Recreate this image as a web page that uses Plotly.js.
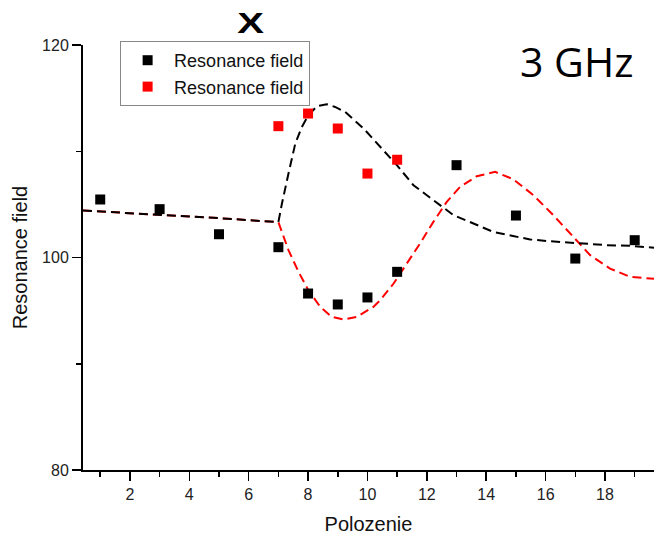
<!DOCTYPE html>
<html>
<head>
<meta charset="utf-8">
<script src="https://cdn.plot.ly/plotly-3.0.1.min.js"></script>
<style>
  html, body { margin: 0; padding: 0; background: #fff; }
  #chart { width: 654px; height: 535px; }
</style>
</head>
<body>
<div id="chart"></div>
<script>
// Measured resonance field at each position
const posBlack = [1, 3, 5, 7, 8, 9, 10, 11, 13, 15, 17, 19];
const fieldBlack = [105.46, 104.55, 102.19, 100.97, 96.61, 95.58, 96.24, 98.65, 108.69, 103.95, 99.9, 101.63];
const posRed = [7, 8, 9, 10, 11];
const fieldRed = [112.36, 113.55, 112.14, 107.9, 109.2];

// Fitted curves (dashed)
const fitBlackX = [0.42, 2.57, 5.0, 7.0, 7.12, 7.34, 7.57, 7.79, 8.01, 8.3, 8.63, 8.91, 9.25, 9.87, 10.45, 10.99, 11.55, 12.22, 12.9, 13.57, 14.24, 14.9, 15.48, 16.15, 17.05, 18.06, 18.85, 19.65];
const fitBlackY = [104.42, 104.1, 103.7, 103.33, 105.08, 107.9, 110.73, 112.29, 113.39, 114.24, 114.43, 114.17, 113.7, 112.14, 110.35, 108.69, 106.8, 105.39, 103.98, 103.2, 102.41, 102.02, 101.7, 101.53, 101.37, 101.16, 101.1, 100.92];
const fitRedX = [0.42, 2.57, 5.0, 7.0, 7.06, 7.34, 7.68, 8.01, 8.41, 8.8, 9.19, 9.64, 10.2, 10.43, 10.88, 11.33, 11.77, 12.22, 12.67, 13.12, 13.68, 14.3, 14.92, 15.59, 16.26, 16.88, 17.5, 18.17, 18.85, 19.65];
const fitRedY = [104.42, 104.1, 103.7, 103.33, 102.88, 100.69, 98.64, 96.92, 95.35, 94.41, 94.16, 94.41, 95.35, 95.98, 97.55, 99.44, 101.32, 103.35, 105.23, 106.65, 107.65, 108.06, 107.35, 105.86, 103.98, 102.1, 100.22, 98.96, 98.17, 98.0];

const seriesName = 'Resonance field';
const dashStyle = '9px,5px';
const baseFont = 'Liberation Sans, Arial, sans-serif';

const traces = [
  { x: fitRedX, y: fitRedY, mode: 'lines', showlegend: false, hoverinfo: 'skip',
    line: { color: '#ff0000', width: 2, dash: dashStyle } },
  { x: fitBlackX, y: fitBlackY, mode: 'lines', showlegend: false, hoverinfo: 'skip',
    line: { color: '#000000', width: 2, dash: dashStyle } },
  { x: posBlack, y: fieldBlack, mode: 'markers', name: seriesName,
    marker: { symbol: 'square', size: 10, color: '#000000' } },
  { x: posRed, y: fieldRed, mode: 'markers', name: seriesName,
    marker: { symbol: 'square', size: 10, color: '#ff0000' } }
];

const axisCommon = {
  showline: true, linecolor: '#000', linewidth: 2,
  ticks: 'outside', ticklen: 9, tickwidth: 1.5, tickcolor: '#000',
  showgrid: false, zeroline: false,
  tickfont: { family: baseFont, size: 16, color: '#222' }
};

const layout = {
  width: 654, height: 535,
  margin: { l: 83, r: 0, t: 45, b: 65 },
  paper_bgcolor: '#fff', plot_bgcolor: '#fff',
  font: { family: baseFont, color: '#111' },
  xaxis: Object.assign({}, axisCommon, {
    range: [0.42, 19.65], tick0: 0, dtick: 2,
    minor: { dtick: 1, ticks: 'outside', ticklen: 5, tickwidth: 1.5, tickcolor: '#000' },
    title: { text: 'Polozenie', font: { family: baseFont, size: 20, color: '#111' } }
  }),
  yaxis: Object.assign({}, axisCommon, {
    range: [80, 120], tick0: 80, dtick: 20,
    minor: { dtick: 10, ticks: 'outside', ticklen: 5, tickwidth: 1.5, tickcolor: '#000' },
    automargin: true,
    title: { text: 'Resonance field', standoff: 9, font: { family: baseFont, size: 20, color: '#111' } }
  }),
  legend: {
    x: 0.065, y: 1.0094, xanchor: 'left', yanchor: 'top',
    bgcolor: '#fff', bordercolor: '#888', borderwidth: 1,
    itemwidth: 43,
    font: { family: baseFont, size: 18, color: '#111' },
    traceorder: 'normal'
  },
  annotations: [
    { text: '3 GHz', xref: 'paper', yref: 'paper', x: 0.865, y: 0.962,
      xanchor: 'center', yanchor: 'middle', showarrow: false,
      font: { family: 'Open Sans, sans-serif', size: 41, color: '#000' } },
    { text: 'X', xref: 'paper', yref: 'paper', x: 0.294, y: 1.0525,
      xanchor: 'center', yanchor: 'middle', showarrow: false,
      font: { family: 'Liberation Sans, Arial, sans-serif', size: 29, color: '#000', weight: 'bold' } }
  ]
};

Plotly.newPlot('chart', traces, layout, { displayModeBar: false, staticPlot: true }).then(function () {
  // widen the "X" mark horizontally
  document.querySelectorAll('#chart text.annotation-text').forEach(function (t) {
    if (t.textContent === 'X') {
      t.style.transformBox = 'fill-box';
      t.style.transformOrigin = 'center';
      t.style.transform = 'scaleX(1.38)';
    }
  });
});
</script>
</body>
</html>
